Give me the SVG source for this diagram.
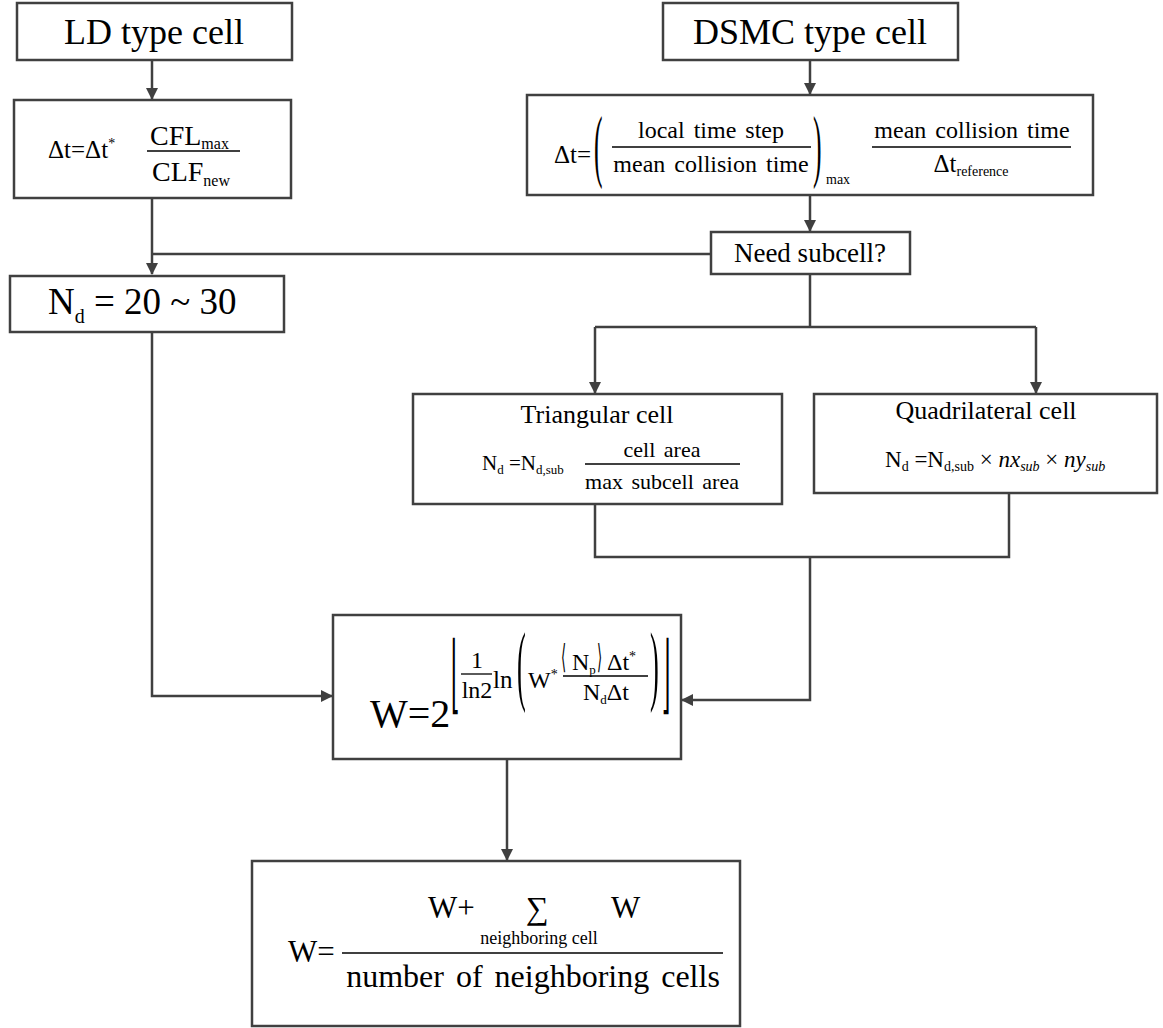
<svg xmlns="http://www.w3.org/2000/svg" width="1163" height="1028" viewBox="0 0 1163 1028">
<style>
.box{fill:#fff;stroke:#404040;stroke-width:2.5}
.t{font-family:"Liberation Serif","Times New Roman",serif;fill:#000}
.m{font-family:"DejaVu Serif","Liberation Serif",serif;fill:#000}
.c{stroke:#404040;stroke-width:2.5;fill:none}
.fl{stroke:#000;stroke-width:1.3}
</style>
<defs>
<marker id="ah" markerUnits="userSpaceOnUse" markerWidth="12" markerHeight="12" refX="11" refY="6" orient="auto">
<path d="M0,0 L12,6 L0,12 z" fill="#404040"/>
</marker>
</defs>
<rect width="1163" height="1028" fill="#fff"/>

<g id="connectors">
<path class="c" d="M152,60 V99" marker-end="url(#ah)"/>
<path class="c" d="M152,198 V274" marker-end="url(#ah)"/>
<path class="c" d="M711,254 H152"/>
<path class="c" d="M810,60 V94" marker-end="url(#ah)"/>
<path class="c" d="M810,195 V231" marker-end="url(#ah)"/>
<path class="c" d="M810,274 V327"/>
<path class="c" d="M595,327 H1036"/>
<path class="c" d="M595,327 V393" marker-end="url(#ah)"/>
<path class="c" d="M1036,327 V393" marker-end="url(#ah)"/>
<path class="c" d="M595,504 V557 H1009 V493"/>
<path class="c" d="M810,557 V700 H682" marker-end="url(#ah)"/>
<path class="c" d="M152,332 V696 H332" marker-end="url(#ah)"/>
<path class="c" d="M507,759 V860" marker-end="url(#ah)"/>
</g>

<g id="ld">
<rect class="box" x="17" y="3" width="275" height="57"/>
<text class="t" x="154" y="44" font-size="36" text-anchor="middle">LD type cell</text>
</g>

<g id="ld-dt">
<rect class="box" x="14" y="100" width="277" height="98"/>
<text class="t" x="48" y="158" font-size="25">Δt=Δt<tspan dy="-10" font-size="14">*</tspan></text>
<text class="t" x="150" y="145" font-size="28">CFL<tspan font-size="16" dy="4">max</tspan></text>
<line class="fl" x1="147" y1="151" x2="240" y2="151"/>
<text class="t" x="152" y="181" font-size="28">CLF<tspan font-size="16" dy="5">new</tspan></text>
</g>

<g id="nd">
<rect class="box" x="10" y="276" width="274" height="56"/>
<text class="t" x="48" y="314" font-size="37">N<tspan font-size="20" dy="9">d</tspan><tspan dy="-9" font-size="37"> = 20 ~ 30</tspan></text>
</g>

<g id="dsmc">
<rect class="box" x="663" y="3" width="295" height="57"/>
<text class="t" x="810" y="44" font-size="36" text-anchor="middle">DSMC type cell</text>
</g>

<g id="dsmc-dt">
<rect class="box" x="527" y="95" width="566" height="100"/>
<text class="t" x="554" y="163" font-size="25">Δt=</text>
<text class="t" transform="translate(594,172) scale(0.32,1)" font-size="80">(</text>
<text class="t" x="711" y="138" font-size="24" text-anchor="middle" word-spacing="3">local time step</text>
<line class="fl" x1="612" y1="147" x2="811" y2="147"/>
<text class="t" x="711" y="172" font-size="24" text-anchor="middle" word-spacing="3">mean collision time</text>
<text class="t" transform="translate(813,172) scale(0.32,1)" font-size="80">)</text>
<text class="t" x="826" y="184" font-size="14">max</text>
<text class="t" x="972" y="138" font-size="24" text-anchor="middle" word-spacing="3">mean collision time</text>
<line class="fl" x1="872" y1="147" x2="1071" y2="147"/>
<text class="t" x="971" y="172" font-size="25" text-anchor="middle">Δt<tspan font-size="14" dy="4">reference</tspan></text>
</g>

<g id="need">
<rect class="box" x="711" y="232" width="199" height="42"/>
<text class="t" x="810" y="262" font-size="27" text-anchor="middle">Need subcell?</text>
</g>

<g id="tri">
<rect class="box" x="413" y="394" width="369" height="110"/>
<text class="t" x="597" y="423" font-size="26" text-anchor="middle">Triangular cell</text>
<text class="t" x="482" y="470" font-size="21">N<tspan dy="4" font-size="13">d</tspan><tspan dy="-4"> =N</tspan><tspan dy="4" font-size="13">d,sub</tspan></text>
<text class="t" x="662" y="457" font-size="22" text-anchor="middle" word-spacing="3">cell area</text>
<line class="fl" x1="585" y1="464" x2="740" y2="464"/>
<text class="t" x="662" y="489" font-size="22" text-anchor="middle" word-spacing="3">max subcell area</text>
</g>

<g id="quad">
<rect class="box" x="814" y="394" width="343" height="99"/>
<text class="t" x="986" y="419" font-size="26" text-anchor="middle">Quadrilateral cell</text>
<text class="t" x="885" y="467" font-size="23">N<tspan dy="4" font-size="14">d</tspan><tspan dy="-4"> =N</tspan><tspan dy="4" font-size="14">d,sub</tspan><tspan dy="-4"> × </tspan><tspan font-style="italic">nx</tspan><tspan dy="4" font-size="14" font-style="italic">sub</tspan><tspan dy="-4"> × </tspan><tspan font-style="italic">ny</tspan><tspan dy="4" font-size="14" font-style="italic">sub</tspan></text>
</g>

<g id="wcalc">
<rect class="box" x="333" y="615" width="348" height="144"/>
<text class="t" x="370" y="727" font-size="40">W=2</text>
<text class="m" transform="translate(451,703) scale(0.25,1)" font-size="86">⌊</text>
<text class="t" x="477" y="668" font-size="24" text-anchor="middle">1</text>
<line class="fl" x1="461" y1="674" x2="492" y2="674"/>
<text class="t" x="477" y="698" font-size="24" text-anchor="middle">ln2</text>
<text class="t" x="493" y="688" font-size="25">ln</text>
<text class="t" transform="translate(517,694) scale(0.3,1)" font-size="88">(</text>
<text class="t" x="528" y="688" font-size="24">W<tspan dy="-9" font-size="14">*</tspan></text>
<text class="m" transform="translate(561,668) scale(0.6,1.5)" font-size="22">⟨</text>
<text class="t" x="572" y="670" font-size="24">N<tspan dy="4" font-size="13">p</tspan></text>
<text class="m" transform="translate(597,668) scale(0.6,1.5)" font-size="22">⟩</text>
<text class="t" x="607" y="670" font-size="24">Δt<tspan dy="-9" font-size="14">*</tspan></text>
<line class="fl" x1="563" y1="676" x2="648" y2="676"/>
<text class="t" x="606" y="700" font-size="24" text-anchor="middle">N<tspan dy="4" font-size="13">d</tspan><tspan dy="-4">Δt</tspan></text>
<text class="t" transform="translate(650,694) scale(0.3,1)" font-size="88">)</text>
<text class="m" transform="translate(662,703) scale(0.25,1)" font-size="86">⌋</text>
</g>

<g id="wavg">
<rect class="box" x="252" y="861" width="488" height="165"/>
<text class="t" x="288" y="962" font-size="31">W=</text>
<text class="t" x="428" y="918" font-size="31">W+</text>
<text class="t" x="526" y="919" font-size="32">∑</text>
<text class="t" x="611" y="918" font-size="31">W</text>
<text class="t" x="539" y="944" font-size="18" text-anchor="middle">neighboring cell</text>
<line class="fl" x1="342" y1="953" x2="723" y2="953"/>
<text class="t" x="533" y="987" font-size="32" text-anchor="middle" word-spacing="4">number of neighboring cells</text>
</g>
</svg>
